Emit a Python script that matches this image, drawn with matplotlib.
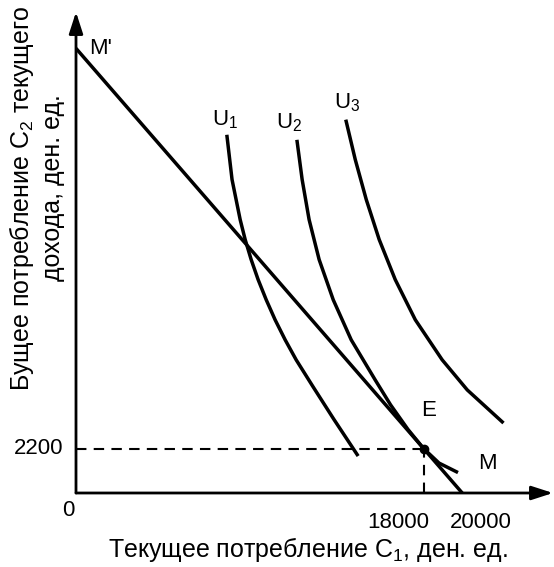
import matplotlib.pyplot as plt
import matplotlib as mpl

mpl.rcParams['font.family'] = ['Liberation Sans', 'DejaVu Sans']
mpl.rcParams['mathtext.default'] = 'regular'

# budget line M'M
budget_c1 = [0, 20000]
budget_c2 = [22000, 0]

# indifference curves
u1_c1 = [7820, 8080, 8500, 8760, 9070, 9430, 9850, 10310, 10830, 11400, 12280, 13350, 14560]
u1_c2 = [17640, 15510, 13530, 12540, 11550, 10560, 9560, 8570, 7580, 6590, 5250, 3650, 1900]
u2_c1 = [11450, 11710, 12070, 12590, 13320, 14250, 15490, 16290, 17190, 18000, 18800, 19700]
u2_c2 = [17390, 15510, 13530, 11550, 9560, 7580, 5600, 4360, 3145, 2200, 1480, 1050]
u3_c1 = [13990, 14460, 15030, 15700, 16530, 17570, 18960, 20260, 22070]
u3_c2 = [18390, 16500, 14520, 12540, 10560, 8570, 6590, 5100, 3520]

eq_c1, eq_c2 = 18000, 2200
xticks = [18000, 20000]
xmax, ymax = 24700, 23800

W, H = 554, 567
fig = plt.figure(figsize=(W / 100, H / 100), dpi=100)
ax = fig.add_axes([76 / W, (H - 493) / H, (553 - 76) / W, (493 - 12) / H])
ax.set_xlim(0, xmax)
ax.set_ylim(0, ymax)
ax.axis('off')

lw = 2.5
ax.plot(budget_c1, budget_c2, color='black', lw=lw, solid_capstyle='butt')
for xs, ys in [(u1_c1, u1_c2), (u2_c1, u2_c2), (u3_c1, u3_c2)]:
    ax.plot(xs, ys, color='black', lw=lw, solid_joinstyle='round')

# axes with arrows
arr = dict(arrowstyle='-|>,head_length=1.3,head_width=0.42', color='black',
           lw=2.0, shrinkA=0, shrinkB=0)
ax.annotate('', xy=(xmax, 0), xytext=(0, 0), arrowprops=arr, annotation_clip=False)
ax.annotate('', xy=(0, ymax), xytext=(0, 0), arrowprops=arr, annotation_clip=False)

# equilibrium point and guides
ax.plot([0, eq_c1], [eq_c2, eq_c2], color='black', lw=1.5, ls=(0, (5, 3.5)))
ax.plot([eq_c1, eq_c1], [0, eq_c2], color='black', lw=1.5, ls=(0, (5, 3.5)))
ax.plot(eq_c1, eq_c2, 'o', color='black', ms=6)

fs = 16
ax.text(700, 22000, "M'", fontsize=fs, va='center', ha='left')
ax.text(7720, 18480, '$U_1$', fontsize=fs, ha='center', va='center')
ax.text(11036, 18335, '$U_2$', fontsize=fs, ha='center', va='center')
ax.text(14041, 19326, '$U_3$', fontsize=fs, ha='center', va='center')
ax.text(18238, 4063, 'E', fontsize=fs, ha='center', va='center')
ax.text(21295, 1437, 'M', fontsize=fs, ha='center', va='center')

# tick labels
ax.text(-415, -850, '0', fontsize=fs, ha='center', va='center', clip_on=False)
ax.text(-650, eq_c2, '2200', fontsize=fs, ha='right', va='center', clip_on=False)
ax.text(16680, -1450, '18000', fontsize=fs, ha='center', va='center', clip_on=False)
ax.text(20984, -1450, '20000', fontsize=fs, ha='center', va='center', clip_on=False)

lfs = 18
fig.text(308 / W, 1 - 550 / H, 'Текущее потребление $C_1$, ден. ед.', fontsize=lfs,
         ha='center', va='center')
fig.text(22 / W, 1 - 198 / H, 'Бущее потребление $C_2$ текущего', fontsize=lfs,
         ha='center', va='center', rotation=90)
fig.text(53 / W, 1 - 188 / H, 'дохода, ден. ед.', fontsize=lfs,
         ha='center', va='center', rotation=90)

fig.savefig('out.png', dpi=100)
